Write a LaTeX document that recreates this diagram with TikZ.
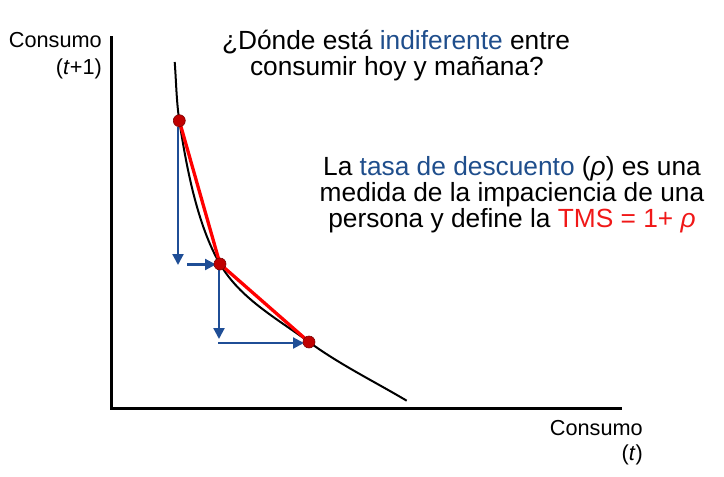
\documentclass[tikz,border=0pt]{standalone}
\usepackage{fontspec}
\setmainfont{Liberation Sans}
\usetikzlibrary{arrows.meta}
\definecolor{txtblue}{HTML}{1F4E8C}
\definecolor{arrblue}{HTML}{1F4E96}
\definecolor{dotred}{HTML}{C00000}
\definecolor{dotedge}{HTML}{7F0000}
\definecolor{txtred}{HTML}{F01818}
\begin{document}
\begin{tikzpicture}[x=1pt,y=-1pt,
  big/.style={inner sep=0pt,anchor=base,font=\fontsize{26.3}{27}\selectfont},
  axlabel/.style={inner sep=0pt,anchor=base east,font=\fontsize{21.7}{23}\selectfont},
  axisline/.style={line width=3pt,black},
  curveline/.style={line width=2pt,black},
  chord/.style={line width=3.3pt,red},
  movearrow/.style={line width=2.2pt,arrblue,-{Triangle[length=11pt,width=11pt]}},
  pt/.style={circle,fill=dotred,draw=dotedge,line width=0.6pt,minimum size=12pt,inner sep=0pt}]
\useasboundingbox (0,0) rectangle (724,477);
% axes
\coordinate (top) at (111.5,36);
\coordinate (orig) at (111.5,408);
\coordinate (right) at (622,408);
\draw[axisline] (top) -- (orig) -- (right);
% points
\coordinate (c0) at (174.7,62);
\coordinate (p1) at (179.3,120.7);
\coordinate (p2) at (220,264);
\coordinate (p3) at (309,342);
\coordinate (c9) at (406.7,400.7);
% indifference curve
\draw[curveline] (c0) .. controls (176.2,81.5) and (176.4,101.3) .. (p1)
  .. controls (186.1,165.2) and (197.2,225.2) .. (p2)
  .. controls (240.2,298.5) and (276.7,318.4) .. (p3)
  .. controls (339.7,364.5) and (374,381.3) .. (c9);
\draw[chord] (p1) -- (p2) -- (p3);
% arrows
\coordinate (a1s) at (178,127);
\coordinate (a1e) at (178,265);
\coordinate (a2s) at (187,264.5);
\coordinate (a2e) at (216,264.5);
\coordinate (a3s) at (219,269);
\coordinate (a3e) at (219,339);
\coordinate (a4s) at (218,343);
\coordinate (a4e) at (304,343);
\draw[movearrow] (a1s) -- (a1e);
\draw[movearrow] (a2s) -- (a2e);
\draw[movearrow] (a3s) -- (a3e);
\draw[movearrow] (a4s) -- (a4e);
\node[pt] (d1) at (p1) {};
\node[pt] (d2) at (p2) {};
\node[pt] (d3) at (p3) {};
% axis labels
\node[axlabel] (yl1) at (102,47) {Consumo};
\node[axlabel] (yl2) at (102,74) {(\textit{t}+1)};
\node[axlabel] (xl1) at (643,435) {Consumo};
\node[axlabel] (xl2) at (643,460) {(\textit{t})};
% title
\node[big] (t1) at (396,49) {¿Dónde está \textcolor{txtblue}{indiferente} entre};
\node[big] (t2) at (397,75) {consumir hoy y mañana?};
% explanation
\node[big] (e1) at (512,175) {La \textcolor{txtblue}{tasa de descuento} (\textit{ρ}) es una};
\node[big] (e2) at (512,201.5) {medida de la impaciencia de una};
\node[big] (e3) at (512,227.5) {persona y define la \textcolor{txtred}{TMS = 1+ \textit{ρ}}};
\end{tikzpicture}
\end{document}
